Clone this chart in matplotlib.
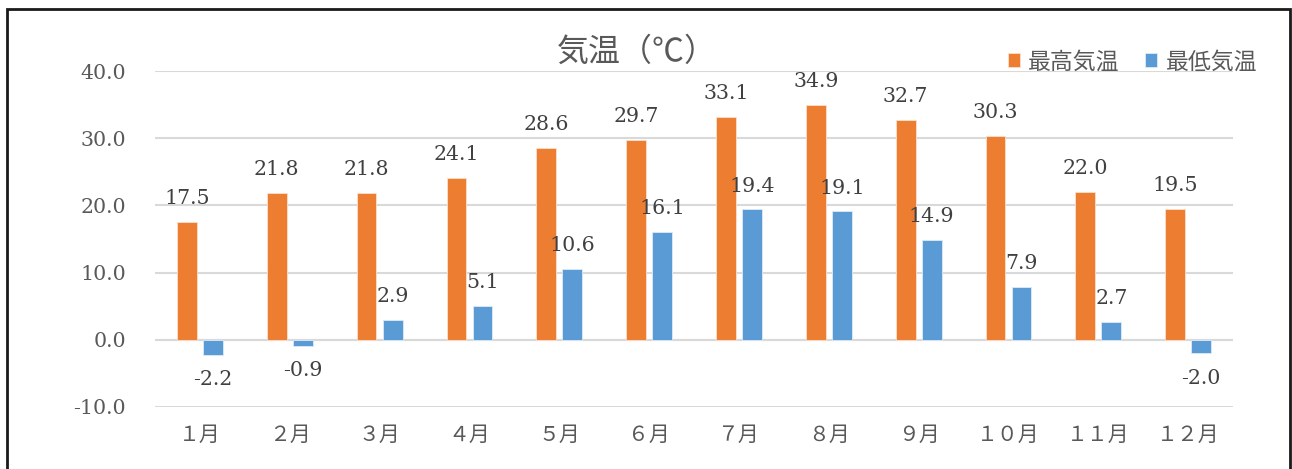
import numpy as np
import matplotlib
matplotlib.use('Agg')
import matplotlib.pyplot as plt
from matplotlib.patches import Rectangle

# data
months = ['１月', '２月', '３月', '４月', '５月', '６月',
          '７月', '８月', '９月', '１０月', '１１月', '１２月']
temp_max = [17.5, 21.8, 21.8, 24.1, 28.6, 29.7, 33.1, 34.9, 32.7, 30.3, 22.0, 19.5]
temp_min = [-2.2, -0.9, 2.9, 5.1, 10.6, 16.1, 19.4, 19.1, 14.9, 7.9, 2.7, -2.0]
y_ticks = [-10, 0, 10, 20, 30, 40]

JP = ['Noto Sans CJK JP', 'DejaVu Sans']
NUM = ['DejaVu Serif']
ORANGE = '#ED7D31'
BLUE = '#5B9BD5'
TICK_COL = '#595959'
LABEL_COL = '#404040'


def draw():
    fig = plt.figure(figsize=(12.92, 4.69), dpi=100)
    ax = fig.add_axes([0.12, 0.1322, 0.8344, 0.7164])

    x = np.arange(len(months))
    w = 0.22
    off = 0.145
    b1 = ax.bar(x - off, temp_max, w, color=ORANGE, edgecolor='#fbe0cf', linewidth=0.6,
                label='最高気温', zorder=3)
    b2 = ax.bar(x + off, temp_min, w, color=BLUE, edgecolor='#deebf7', linewidth=0.6,
                label='最低気温', zorder=3)

    # data labels
    for bars, vals in ((b1, temp_max), (b2, temp_min)):
        for rect, v in zip(bars, vals):
            cx = rect.get_x() + rect.get_width() / 2
            if v >= 0:
                ax.annotate('%.1f' % v, (cx, v), xytext=(0, 10), textcoords='offset points',
                            ha='center', va='bottom', fontsize=14.8, family=NUM,
                            color=LABEL_COL, zorder=4)
            else:
                ax.annotate('%.1f' % v, (cx, v), xytext=(0, -11), textcoords='offset points',
                            ha='center', va='top', fontsize=14.8, family=NUM,
                            color=LABEL_COL, zorder=4)

    ax.set_xlim(-0.5, len(months) - 0.5)
    ax.set_ylim(-10, 40)
    ax.set_yticks(y_ticks)
    ax.set_yticklabels(['%.1f' % t for t in y_ticks], family=NUM, fontsize=14.8, color=TICK_COL)
    ax.set_xticks(x)
    ax.set_xticklabels(months, family=JP, fontsize=15, color=TICK_COL)
    ax.tick_params(axis='y', length=0, pad=21)
    ax.tick_params(axis='x', length=0, pad=12)
    ax.grid(axis='y', color='#d9d9d9', linewidth=1.5, zorder=0)
    for s in ax.spines.values():
        s.set_visible(False)
    ax.axhline(0, color='#d9d9d9', linewidth=1.5, zorder=2)

    fig.text(0.493, 0.889, '気温（℃）', ha='center', va='center', fontsize=23,
             family=JP, color=TICK_COL)

    fig.legend(handles=[b1, b2], loc='center right', bbox_to_anchor=(0.98, 0.868),
               ncol=2, frameon=False, borderaxespad=0, prop={'family': JP, 'size': 16.5},
               labelcolor=TICK_COL, handlelength=0.55, handleheight=0.55,
               handletextpad=0.35, columnspacing=1.1)

    # outer frame of the chart
    fig.patches.append(Rectangle((7 / 1292, -0.05), 1283 / 1292, 1.05 - 9 / 469,
                                 transform=fig.transFigure, fill=False,
                                 edgecolor='#1a1a1a', linewidth=2))

    fig.savefig('out.png', dpi=100)


if __name__ == '__main__':
    draw()
